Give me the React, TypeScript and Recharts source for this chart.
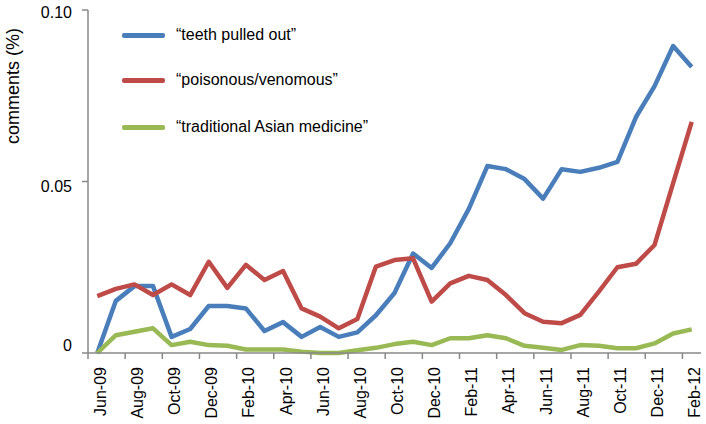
import React from 'react';
import { LineChart, Line, XAxis, YAxis } from 'recharts';

const months = [
  'Jun-09', 'Jul-09', 'Aug-09', 'Sep-09', 'Oct-09', 'Nov-09', 'Dec-09',
  'Jan-10', 'Feb-10', 'Mar-10', 'Apr-10', 'May-10', 'Jun-10', 'Jul-10', 'Aug-10', 'Sep-10', 'Oct-10', 'Nov-10', 'Dec-10',
  'Jan-11', 'Feb-11', 'Mar-11', 'Apr-11', 'May-11', 'Jun-11', 'Jul-11', 'Aug-11', 'Sep-11', 'Oct-11', 'Nov-11', 'Dec-11',
  'Jan-12', 'Feb-12',
];

const teeth = [
  0, 0.0152, 0.0195, 0.0195, 0.0047, 0.007, 0.0137,
  0.0137, 0.013, 0.0064, 0.009, 0.0047, 0.0076, 0.0047, 0.006, 0.011, 0.0175, 0.029, 0.0248,
  0.032, 0.042, 0.0545, 0.0536, 0.0507, 0.045, 0.0536, 0.0528, 0.054, 0.0557, 0.0688, 0.0778,
  0.0895, 0.0834,
];

const poisonous = [
  0.0166, 0.0187, 0.02, 0.0169, 0.02, 0.0169, 0.0266,
  0.019, 0.0257, 0.0213, 0.0239, 0.013, 0.0106, 0.0072, 0.0099, 0.0252, 0.0271, 0.0276, 0.015,
  0.0203, 0.0225, 0.0213, 0.0169, 0.0116, 0.0091, 0.0087, 0.0111, 0.0179, 0.025, 0.026, 0.0315,
  0.0495, 0.0674,
];

const traditional = [
  0, 0.0052, 0.0062, 0.0072, 0.0023, 0.0033, 0.0023,
  0.0021, 0.001, 0.001, 0.001, 0.0004, 0, 0, 0.0008, 0.0015, 0.0026, 0.0033, 0.0023,
  0.0043, 0.0043, 0.0052, 0.0043, 0.0021, 0.0015, 0.0009, 0.0023, 0.0021, 0.0014, 0.0014, 0.0028,
  0.0057, 0.0069,
];

const yTicks = [0, 0.05, 0.1];
const yTickLabels = ['0', '0.05', '0.10'];

const seriesNames = ['\u201cteeth pulled out\u201d', '\u201cpoisonous/venomous\u201d', '\u201ctraditional Asian medicine\u201d'];
const yAxisTitle = 'comments (%)';

const data = months.map((m, i) => ({
  month: m,
  teeth: teeth[i],
  poisonous: poisonous[i],
  traditional: traditional[i],
}));

const series = [
  { key: 'teeth', name: seriesNames[0], color: '#4a7ebb' },
  { key: 'poisonous', name: seriesNames[1], color: '#be4b48' },
  { key: 'traditional', name: seriesNames[2], color: '#98b954' },
];

const W = 706;
const H = 424;
const LEFT = 88;
const RIGHT_M = 5;
const TOP = 10;
const XAXIS_H = 71;
const FONT = 'Liberation Sans, Arial, sans-serif';
const AXIS_COLOR = '#888888';
const HALF_BAND = (W - LEFT - RIGHT_M) / months.length / 2;
const Y_LABEL_NUDGE = [-8, 5, 2];
const LEGEND_ROWS = [35, 80, 127];

const XTick = (props: any) => {
  const { x, payload } = props;
  const axisY = H - XAXIS_H;
  return (
    <g>
      <line x1={x - HALF_BAND} x2={x - HALF_BAND} y1={axisY} y2={axisY + 6} stroke={AXIS_COLOR} strokeWidth={1.5} />
      <text
        x={0}
        y={0}
        transform={`translate(${x + 3},${axisY + 14}) rotate(-90)`}
        textAnchor="end"
        dominantBaseline="central"
        fontSize={16}
        fontFamily={FONT}
        fill="#000"
      >
        {payload.value}
      </text>
    </g>
  );
};

const YTick = (props: any) => {
  const { x, y, payload } = props;
  const idx = yTicks.indexOf(payload.value);
  const nudge = idx >= 0 ? Y_LABEL_NUDGE[idx] : 0;
  return (
    <text x={x} y={y + nudge} dy="0.355em" textAnchor="end" fontSize={16} fontFamily={FONT} fill="#000">
      {idx >= 0 ? yTickLabels[idx] : String(payload.value)}
    </text>
  );
};

export default function App() {
  return (
    <div style={{ position: 'absolute', left: 0, top: 0, width: W, height: H, background: '#fff' }}>
      <LineChart width={W} height={H} data={data} margin={{ top: TOP, right: RIGHT_M, bottom: 0, left: 0 }}>
        <XAxis
          dataKey="month"
          scale="band"
          height={XAXIS_H}
          interval={1}
          tickLine={false}
          tick={<XTick />}
          axisLine={{ stroke: AXIS_COLOR, strokeWidth: 1.5 }}
        />
        <YAxis
          width={LEFT}
          domain={[0, 0.1]}
          ticks={yTicks}
          tickSize={6}
          tickMargin={10}
          tick={<YTick />}
          tickLine={{ stroke: AXIS_COLOR, strokeWidth: 1.5 }}
          axisLine={{ stroke: AXIS_COLOR, strokeWidth: 1.5 }}
          label={{
            content: (p: any) => {
              const vb = p.viewBox || { x: 0, y: TOP, width: LEFT, height: 343 };
              return (
                <text
                  x={0}
                  y={0}
                  transform={`translate(${vb.x + 13},${vb.y + 76}) rotate(-90)`}
                  textAnchor="middle"
                  dominantBaseline="central"
                  fontSize={18}
                  fontFamily={FONT}
                  fill="#000"
                >
                  {yAxisTitle}
                </text>
              );
            },
          }}
        />
        {series.map((s) => (
          <Line
            key={s.key}
            type="linear"
            dataKey={s.key}
            name={s.name}
            stroke={s.color}
            strokeWidth={4.5}
            dot={false}
            activeDot={false}
            isAnimationActive={false}
            strokeLinejoin="round"
          />
        ))}
      </LineChart>
      {series.map((s, i) => (
        <div
          key={s.key}
          style={{
            position: 'absolute',
            left: 122,
            top: LEGEND_ROWS[i] - 12,
            height: 24,
            display: 'flex',
            alignItems: 'center',
            fontFamily: FONT,
            fontSize: 16,
            color: '#000',
            whiteSpace: 'nowrap',
          }}
        >
          <span style={{ display: 'inline-block', width: 43, height: 5, borderRadius: 2, background: s.color, marginRight: 11 }} />
          <span>{s.name}</span>
        </div>
      ))}
    </div>
  );
}
